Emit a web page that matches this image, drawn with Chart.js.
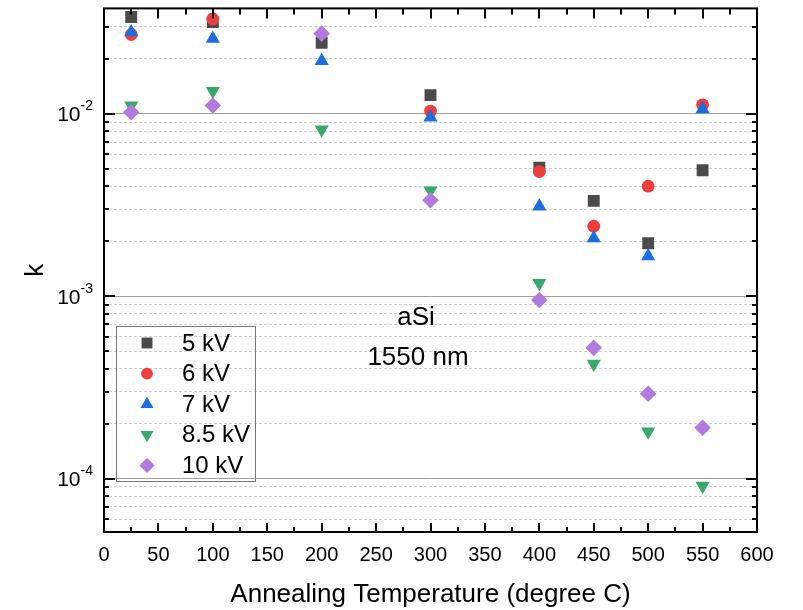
<!DOCTYPE html>
<html lang="en">
<head>
    <meta charset="UTF-8">
    <title>k - aSi 1550 nm</title>
    <script src="https://cdn.jsdelivr.net/npm/chart.js"></script>
    <style>
        body { margin: 0; background: #fff; }
    </style>
</head>
<body>
    <canvas id="grafico" width="803" height="610"></canvas>

    <script>
        // Temperaturas de recozimento (graus C)
        const temperaturas = [25, 100, 200, 300, 400, 450, 500, 550];

        // Coeficiente de extinção k para cada tensão
        const k5kV  = [0.0339, 0.0318, 0.0245, 0.01265, 0.00507, 0.00333, 0.00195, 0.0049];
        const k6kV  = [0.0272, 0.0331, null, 0.01035, 0.00482, 0.00242, 0.00401, 0.0112];
        const k7kV  = [0.0280, 0.0258, 0.0195, 0.00956, 0.00311, 0.00208, 0.00166, 0.01061];
        const k85kV = [0.0111, 0.0133, 0.0082, 0.00379, 0.00118, 0.000426, 0.000181, 0.0000912];
        const k10kV = [0.0102, 0.0111, 0.0275, 0.00336, 0.000953, 0.000521, 0.000292, 0.000190];

        const rotulos = ['5 kV', '6 kV', '7 kV', '8.5 kV', '10 kV'];
        const valores = [k5kV, k6kV, k7kV, k85kV, k10kV];
        const cores = ['#4a4a4a', '#ef3c3c', '#1c6ee0', '#36a96b', '#b17adc'];
        const simbolos = [
            { pointStyle: 'rect', radius: 8.4, rotation: 0 },
            { pointStyle: 'circle', radius: 6.4, rotation: 0 },
            { pointStyle: 'triangle', radius: 8.2, rotation: 0 },
            { pointStyle: 'triangle', radius: 8.2, rotation: 180 },
            { pointStyle: 'rectRot', radius: 8.3, rotation: 0 }
        ];

        // Eixos
        const xMin = 0, xMax = 600, xPasso = 50;
        const yMin = 5.1e-5, yMax = 0.0378;
        const decadas = [1e-4, 1e-3, 1e-2];
        const expoentes = ['-4', '-3', '-2'];
        const anotacoes = ['aSi', '1550 nm'];

        const fonte = "'Liberation Sans', Arial, sans-serif";

        // marcas do eixo y: 1..9 de cada década dentro do intervalo
        const marcasY = [];
        for (let e = -5; e <= -2; e++) {
            for (let m = 1; m <= 9; m++) {
                const v = m * Math.pow(10, e);
                if (v > yMin && v < yMax) marcasY.push({ value: v, major: m === 1 });
            }
        }

        // a última série fica por cima (order maior é desenhado antes)
        const datasets = rotulos.map((rotulo, i) => ({
            label: rotulo,
            order: rotulos.length - i,
            data: temperaturas.map((t, j) => ({ x: t, y: valores[i][j] })),
            showLine: false,
            pointStyle: simbolos[i].pointStyle,
            pointRadius: simbolos[i].radius,
            pointHoverRadius: simbolos[i].radius,
            pointRotation: simbolos[i].rotation,
            backgroundColor: cores[i],
            borderColor: cores[i],
            pointBorderWidth: 0
        }));

        // moldura, marcas internas, rótulos do eixo y, anotações e legenda
        const moldura = {
            id: 'moldura',
            afterDraw(chart) {
                const ctx = chart.ctx;
                const a = chart.chartArea;
                const sx = chart.scales.x;
                const sy = chart.scales.y;
                ctx.save();

                // marcas do eixo x (a cada 25)
                ctx.strokeStyle = '#000';
                ctx.lineWidth = 2;
                for (let v = xMin; v <= xMax; v += 25) {
                    const px = Math.round(sx.getPixelForValue(v));
                    const grande = v % 50 === 0;
                    ctx.beginPath();
                    ctx.moveTo(px, a.bottom);
                    ctx.lineTo(px, a.bottom - (grande ? 9 : 5));
                    ctx.moveTo(px, a.top);
                    ctx.lineTo(px, a.top + (grande ? 10 : 6));
                    ctx.stroke();
                }

                // marcas do eixo y
                marcasY.forEach(t => {
                    const py = Math.round(sy.getPixelForValue(t.value));
                    const len = t.major ? 11 : 5;
                    ctx.beginPath();
                    ctx.moveTo(a.left, py);
                    ctx.lineTo(a.left + len, py);
                    ctx.moveTo(a.right, py);
                    ctx.lineTo(a.right - len, py);
                    ctx.stroke();
                });

                // moldura
                ctx.strokeRect(a.left, a.top, a.right - a.left, a.bottom - a.top);

                // rótulos 10^n
                ctx.fillStyle = '#000';
                ctx.textBaseline = 'alphabetic';
                decadas.forEach((d, i) => {
                    const py = sy.getPixelForValue(d);
                    ctx.font = '14px ' + fonte;
                    const wExp = ctx.measureText(expoentes[i]).width;
                    const xExp = 93 - wExp;
                    ctx.textAlign = 'left';
                    ctx.fillText(expoentes[i], xExp, py - 3.5);
                    ctx.font = '21px ' + fonte;
                    ctx.textAlign = 'right';
                    ctx.fillText('10', xExp, py + 7.5);
                });

                // anotações
                ctx.font = '26px ' + fonte;
                ctx.textAlign = 'center';
                ctx.textBaseline = 'middle';
                ctx.fillText(anotacoes[0], 416, 318);
                ctx.fillText(anotacoes[1], 418, 358);

                // legenda
                ctx.strokeStyle = '#777';
                ctx.lineWidth = 1;
                ctx.strokeRect(116.5, 326.5, 139, 155);
                ctx.font = '24px ' + fonte;
                ctx.textAlign = 'left';
                rotulos.forEach((rotulo, i) => {
                    const ly = 343 + i * 30.6;
                    ctx.fillStyle = cores[i];
                    ctx.strokeStyle = cores[i];
                    Chart.helpers.drawPoint(ctx, {
                        pointStyle: simbolos[i].pointStyle,
                        radius: simbolos[i].radius * 0.92,
                        rotation: simbolos[i].rotation,
                        borderWidth: 0
                    }, 147, ly);
                    ctx.fillStyle = '#000';
                    ctx.fillText(rotulo, 182, ly + 1);
                });
                ctx.restore();
            }
        };

        new Chart(document.getElementById('grafico'), {
            type: 'scatter',
            data: { datasets },
            plugins: [moldura],
            options: {
                responsive: false,
                animation: false,
                devicePixelRatio: 1,
                layout: { padding: { top: 7, right: 46, left: 0, bottom: 0 } },
                plugins: {
                    legend: { display: false },
                    tooltip: { enabled: false }
                },
                scales: {
                    x: {
                        type: 'linear',
                        min: xMin,
                        max: xMax,
                        afterFit: s => { s.height = 78; },
                        grid: { display: false },
                        border: { display: false },
                        ticks: {
                            stepSize: xPasso,
                            color: '#000',
                            padding: 3,
                            font: { family: fonte, size: 20 }
                        },
                        title: {
                            display: true,
                            text: 'Annealing Temperature (degree C)',
                            color: '#000',
                            font: { family: fonte, size: 26 },
                            padding: { top: 0, bottom: 0 }
                        }
                    },
                    y: {
                        type: 'logarithmic',
                        min: yMin,
                        max: yMax,
                        afterFit: s => { s.width = 104; },
                        afterBuildTicks: s => { s.ticks = marcasY.map(t => ({ value: t.value, major: t.major })); },
                        grid: {
                            drawTicks: false,
                            lineWidth: 1,
                            color: c => (c.tick && c.tick.major) ? '#a0a0a0' : '#cfcfcf'
                        },
                        border: {
                            display: false,
                            dash: c => (c.tick && !c.tick.major) ? [3, 2] : []
                        },
                        ticks: { display: false },
                        title: {
                            display: true,
                            text: 'k',
                            color: '#000',
                            font: { family: fonte, size: 26 },
                            padding: { top: 20, bottom: 0 }
                        }
                    }
                }
            }
        });
    </script>
</body>
</html>
